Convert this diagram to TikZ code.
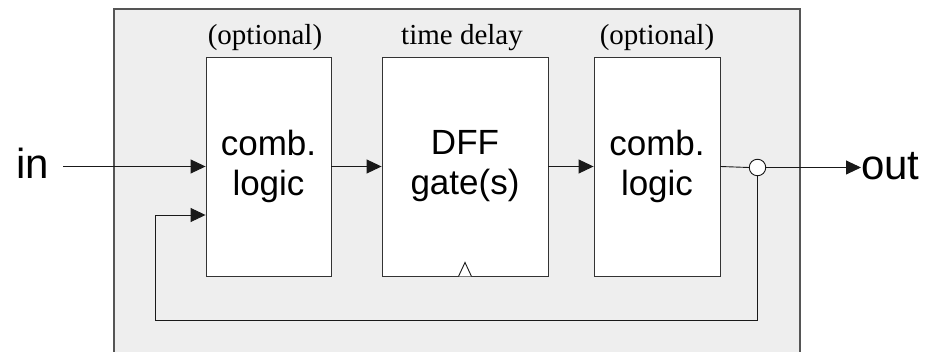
\documentclass[tikz,border=0pt]{standalone}
\usepackage{fontspec}
\setmainfont{Liberation Serif}
\newfontfamily\sansf{Liberation Sans}
\newfontfamily\serf{Liberation Serif}
\usetikzlibrary{arrows.meta}
\definecolor{panelgray}{HTML}{EEEEEE}
\definecolor{edgegray}{HTML}{555555}
\tikzset{
  blockbox/.style={draw=black!80, fill=white, line width=0.9pt, minimum width=#1, minimum height=219pt, inner sep=0pt, align=center, font=\sansf\fontsize{35}{40}\selectfont},
  toplabel/.style={anchor=base, inner sep=0pt, font=\serf\fontsize{29}{32}\selectfont},
  iolabel/.style={inner sep=0pt, font=\sansf\fontsize{42}{48}\selectfont},
  wire/.style={line width=0.9pt, draw=black!90},
  arrowwire/.style={wire, -{Triangle[length=15pt,width=14pt]}},
}
\begin{document}
\begin{tikzpicture}[x=1pt,y=1pt]
\useasboundingbox (0,0) rectangle (930,-352);
% outer panel
\fill[panelgray] (114,-9) rectangle (800,-352);
\draw[edgegray, line width=1.1pt] (114,-352) -- (114,-9) -- (800,-9) -- (800,-352);
% blocks
\node[blockbox=125pt] (cl1) at (268.5,-166.5) {comb.\\logic};
\node[blockbox=166pt] (dff) at (465,-166.5) {DFF\\gate(s)};
\node[blockbox=126pt] (cl2) at (657,-166.5) {comb.\\logic};
% labels above
\node[toplabel] (lab1) at (265,-45) {(optional)};
\node[toplabel] (lab2) at (462,-45) {time delay};
\node[toplabel] (lab3) at (657,-45) {(optional)};
% clock triangle
\draw[wire, fill=white] ([xshift=-6.5pt]dff.south) -- ([yshift=14pt]dff.south) -- ([xshift=6.5pt]dff.south);
% io labels
\node[iolabel, anchor=base west] (in) at (16,-179) {in};
\node[iolabel, anchor=base west] (out) at (861,-180) {out};
% junction
\node[draw=black!90, fill=white, circle, line width=0.9pt, minimum size=16.5pt, inner sep=0pt] (j) at (757.5,-167.5) {};
% coordinates
\coordinate (instart) at (63,-166.5);
\coordinate (fbcorner1) at (757.5,-320);
\coordinate (fbcorner2) at (155,-320);
\coordinate (fbcorner3) at (155,-215);
% connectors
\draw[arrowwire] (instart) -- (cl1.west |- instart);
\draw[arrowwire] (cl1.east) -- (dff.west);
\draw[arrowwire] (dff.east) -- (cl2.west);
\draw[wire] (cl2.east) -- (j.west);
\draw[arrowwire] (j.east) -- (out.west |- j.east);
\draw[arrowwire] (j.south) -- (fbcorner1) -- (fbcorner2) -- (fbcorner3) -- (cl1.west |- fbcorner3);
\end{tikzpicture}
\end{document}
